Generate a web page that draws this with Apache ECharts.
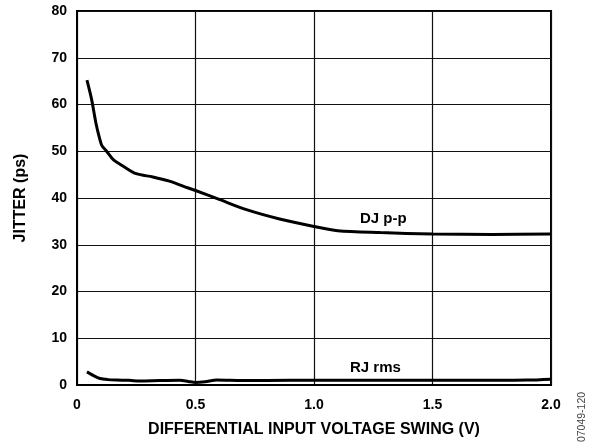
<!DOCTYPE html>
<html>
<head>
<meta charset="utf-8">
<script src="https://cdn.jsdelivr.net/npm/echarts@6/dist/echarts.min.js"></script>
<style>html,body{margin:0;padding:0;background:#fff}#c{width:592px;height:443px}</style>
</head>
<body>
<div id="c"></div>
<script>
const xTicks = [0, 0.5, 1.0, 1.5, 2.0];
const yTicks = [0, 10, 20, 30, 40, 50, 60, 70, 80];
const djVoltage = [0.042, 0.062, 0.08, 0.095, 0.105, 0.125, 0.153, 0.195, 0.25, 0.32, 0.39, 0.45, 0.5, 0.6, 0.715, 0.855, 1.0, 1.1, 1.28, 1.5, 1.75, 2.0];
const djJitter  = [65.2, 61.0, 56.0, 52.8, 51.2, 50.0, 48.2, 46.8, 45.2, 44.5, 43.6, 42.5, 41.6, 39.7, 37.5, 35.5, 33.9, 33.0, 32.6, 32.3, 32.2, 32.3];
const rjVoltage = [0.042, 0.07, 0.097, 0.13, 0.167, 0.22, 0.266, 0.35, 0.435, 0.47, 0.5, 0.54, 0.59, 0.7, 0.9, 1.1, 1.3, 1.5, 1.7, 1.9, 2.0];
const rjJitter  = [2.8, 2.0, 1.4, 1.15, 1.05, 1.0, 0.85, 0.95, 1.0, 0.75, 0.55, 0.7, 1.05, 0.95, 1.0, 1.0, 1.0, 1.0, 1.0, 1.05, 1.25];
const djLabel = 'DJ p-p';
const rjLabel = 'RJ rms';
const xName = 'DIFFERENTIAL INPUT VOLTAGE SWING (V)';
const yName = 'JITTER (ps)';
const figId = '07049-120';

const chart = echarts.init(document.getElementById('c'), null, {renderer: 'canvas'});
const font = 'Liberation Sans, Arial, Helvetica, sans-serif';
chart.setOption({
  animation: false,
  backgroundColor: '#fff',
  grid: {left: 77, right: 41, top: 11, bottom: 57, show: true, borderColor: '#000', borderWidth: 2, backgroundColor: 'transparent'},
  xAxis: {
    type: 'value', min: xTicks[0], max: xTicks[xTicks.length-1], interval: 0.5,
    name: xName, nameLocation: 'middle', nameGap: 37,
    nameTextStyle: {fontFamily: font, fontWeight: 'bold', fontSize: 16, color: '#000'},
    axisLine: {show: true, lineStyle: {color: '#000', width: 2}},
    axisTick: {show: false},
    axisLabel: {fontFamily: font, fontWeight: 'bold', fontSize: 14, color: '#000', margin: 13,
      formatter: v => v === 0 ? '0' : v.toFixed(1)},
    splitLine: {show: true, lineStyle: {color: '#111', width: 1.2}}
  },
  yAxis: {
    type: 'value', min: yTicks[0], max: yTicks[yTicks.length-1], interval: 10,
    name: yName, nameLocation: 'middle', nameGap: 48, nameRotate: 90,
    nameTextStyle: {fontFamily: font, fontWeight: 'bold', fontSize: 16, color: '#000'},
    axisLine: {show: true, lineStyle: {color: '#000', width: 2}},
    axisTick: {show: false},
    axisLabel: {fontFamily: font, fontWeight: 'bold', fontSize: 14, color: '#000', margin: 10},
    splitLine: {show: true, lineStyle: {color: '#111', width: 1.2}}
  },
  series: [
    {type: 'line', data: djVoltage.map((x, i) => [x, djJitter[i]]), smooth: 0.3, symbol: 'none',
      lineStyle: {color: '#000', width: 3}, z: 5},
    {type: 'line', data: rjVoltage.map((x, i) => [x, rjJitter[i]]), smooth: 0.3, symbol: 'none',
      lineStyle: {color: '#000', width: 3}, z: 5}
  ],
  graphic: [
    {type: 'text', left: 360, top: 211, style: {text: djLabel, font: 'bold 15px ' + font, fill: '#000'}},
    {type: 'text', left: 350, top: 360, style: {text: rjLabel, font: 'bold 15px ' + font, fill: '#000'}},
    {type: 'text', x: 582, y: 417, rotation: Math.PI/2, style: {text: figId, font: '10.5px ' + font, fill: '#444', align: 'center', verticalAlign: 'middle'}}
  ]
});
</script>
</body>
</html>
